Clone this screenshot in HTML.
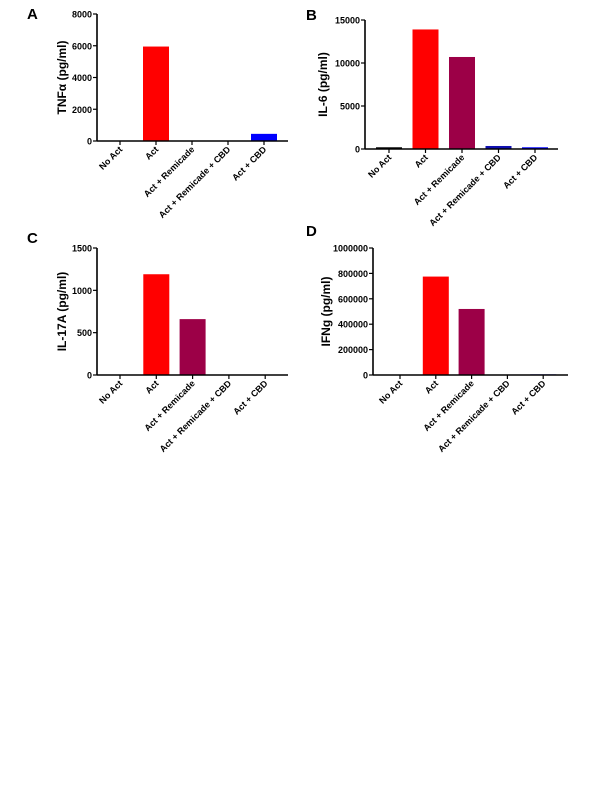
<!DOCTYPE html>
<html><head><meta charset="utf-8"><style>
body{margin:0;background:#fff;}
svg{display:block;font-family:"Liberation Sans",Arial,sans-serif;}
</style></head><body>
<svg id="s" width="600" height="800"></svg>
<script>
const categories=["No Act","Act","Act + Remicade","Act + Remicade + CBD","Act + CBD"];
const tnfValues=[0,5950,0,0,450];
const il6Values=[200,13900,10700,350,200];
const il17Values=[0,1190,660,0,0];
const ifngValues=[0,775000,520000,0,5000];
const tnfTicks=[0,2000,4000,6000,8000];
const il6Ticks=[0,5000,10000,15000];
const il17Ticks=[0,500,1000,1500];
const ifngTicks=[0,200000,400000,600000,800000,1000000];
const barColors=["#000000","#ff0000","#9c0047","#1010b0","#0000ff"];
const NS="http://www.w3.org/2000/svg";
const svg=document.getElementById('s');
function mk(t,a,p){const e=document.createElementNS(NS,t);for(const k in a)e.setAttribute(k,a[k]);(p||svg).appendChild(e);return e;}
function panel(o){
  const g=mk('g',{});
  
  
  const ymax=o.ticks[o.ticks.length-1];
  const y=v=>o.y0-(v/ymax)*(o.y0-o.yTop);
  const x=i=>o.xc0+i*o.step;
  o.values.forEach((v,i)=>{
    const h=o.y0-y(v);
    const r=mk('rect',{x:x(i)-13,y:y(v),width:26,height:Math.max(h,0),fill:barColors[i]},g);
    
    
  });
  const ya=mk('line',{x1:o.xa,y1:o.yTop,x2:o.xa,y2:o.y0,stroke:'#000','stroke-width':1.6},g);
  
  
  const xa=mk('line',{x1:o.xa,y1:o.y0,x2:o.xe,y2:o.y0,stroke:'#000','stroke-width':1.6},g);
  
  
  o.ticks.forEach(t=>{
    mk('line',{x1:o.xa-4,y1:y(t),x2:o.xa,y2:y(t),stroke:'#000','stroke-width':1.2},g);
    const tl=mk('text',{x:o.xa-5,y:y(t)+3.5,'font-size':9,'font-weight':'bold','text-anchor':'end'},g);
    tl.textContent=t;
    
    
  });
  categories.forEach((c,i)=>{
    mk('line',{x1:x(i),y1:o.y0,x2:x(i),y2:o.y0+4,stroke:'#000','stroke-width':1.2},g);
    const tx=mk('text',{x:x(i)+3,y:o.y0+9,'font-size':9,'font-weight':'bold','text-anchor':'end',transform:`rotate(-45 ${x(i)+3} ${o.y0+9})`},g);
    tx.textContent=c;
    
    
  });
  const yt=mk('text',{x:o.tx,y:(o.yTop+o.y0)/2,'font-size':12,'font-weight':'bold','text-anchor':'middle',transform:`rotate(-90 ${o.tx} ${(o.yTop+o.y0)/2})`},g);
  yt.textContent=o.title;
  
  
  const pl=mk('text',{x:o.lx,y:o.ly,'font-size':15,'font-weight':'bold'},g);
  pl.textContent=o.letter;
  
  
}
panel({name:'panel-a-tnf',values:tnfValues,ticks:tnfTicks,title:'TNFα (pg/ml)',letter:'A',xa:97,xe:288,yTop:14,y0:141,xc0:120,step:36,tx:66,lx:27,ly:19});
panel({name:'panel-b-il6',values:il6Values,ticks:il6Ticks,title:'IL-6 (pg/ml)',letter:'B',xa:365,xe:558,yTop:20,y0:149,xc0:389,step:36.5,tx:327,lx:306,ly:20});
panel({name:'panel-c-il17a',values:il17Values,ticks:il17Ticks,title:'IL-17A (pg/ml)',letter:'C',xa:97,xe:288,yTop:248,y0:375,xc0:120,step:36.3,tx:66,lx:27,ly:243});
panel({name:'panel-d-ifng',values:ifngValues,ticks:ifngTicks,title:'IFNg (pg/ml)',letter:'D',xa:373,xe:568,yTop:248,y0:375,xc0:400,step:35.8,tx:330,lx:306,ly:236});
</script>
</body></html>
